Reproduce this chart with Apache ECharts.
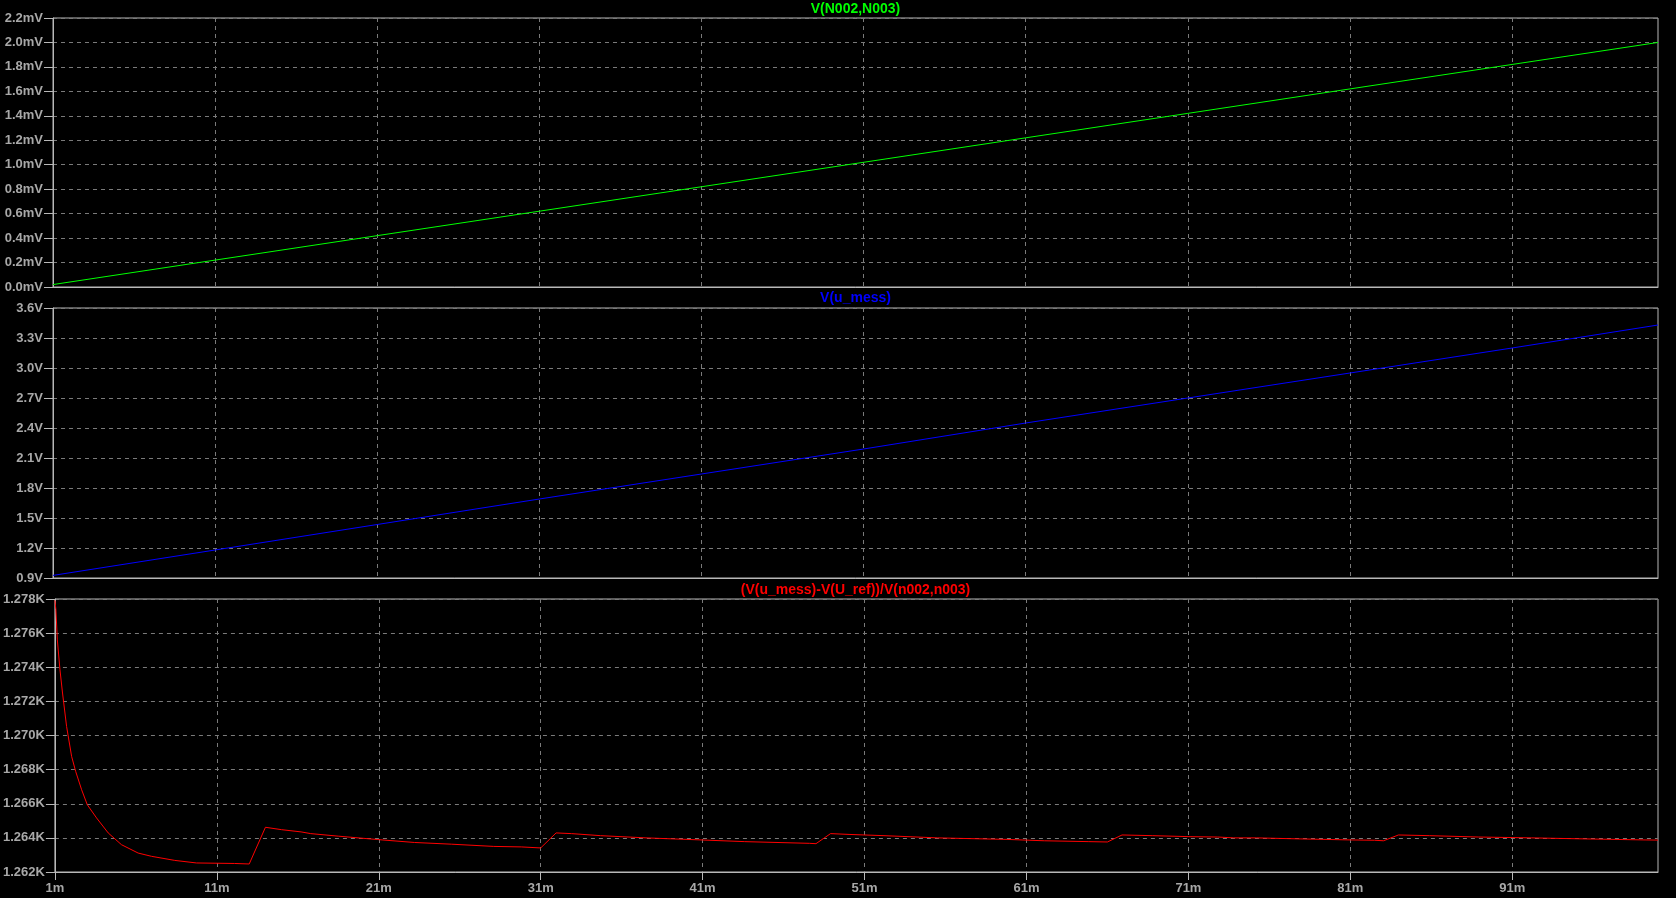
<!DOCTYPE html>
<html>
<head>
<meta charset="utf-8">
<style>
html,body{margin:0;padding:0;background:#000;}
#chart{width:1676px;height:898px;}
</style>
<script src="https://cdn.jsdelivr.net/npm/echarts@6/dist/echarts.min.js"></script>
</head>
<body>
<div id="chart"></div>
<script>
// ---- data ----
const titles = ['V(N002,N003)', 'V(u_mess)', '(V(u_mess)-V(U_ref))/V(n002,n003)'];
const xTicks = [1, 11, 21, 31, 41, 51, 61, 71, 81, 91];           // ms
const xTickLabels = ['1m','11m','21m','31m','41m','51m','61m','71m','81m','91m'];

const greenT = [1, 11, 21, 31, 41, 51, 61, 71, 81, 91, 100];        // ms
const greenV = [0.02, 0.22, 0.42, 0.62, 0.82, 1.02, 1.22, 1.42, 1.62, 1.82, 2.0]; // mV

const blueT = [1, 11, 21, 31, 41, 51, 61, 71, 81, 91, 100];         // ms
const blueV = [0.926, 1.18, 1.435, 1.69, 1.94, 2.19, 2.45, 2.70, 2.95, 3.20, 3.43]; // V

const redT = [1, 1.06, 1.15, 1.31, 1.47, 1.72, 2.03, 2.28, 2.65, 3.0, 3.57, 4.29, 5.11, 6.14, 6.96, 8.4, 9.74, 12.1, 13.0,
  14.0, 15.0, 16.2, 16.8, 18.5, 20.95, 23.2, 25.5, 28.1, 29.8, 31.0,
  31.95, 32.9, 34.7, 37.5, 40.9, 43.6, 47.6, 48.0,
  48.9, 50.1, 52.2, 55.5, 59.8, 62.1, 64.85, 66.0,
  66.9, 68.8, 71.1, 72.8, 73.8, 75.2, 77.9, 81.0, 82.5, 83.05,
  83.97, 85.9, 88.9, 92.2, 95.5, 99.2, 100];
const redV = [1277.92, 1277.37, 1275.6, 1273.86, 1272.49, 1270.53, 1268.78, 1267.9, 1266.82, 1265.94, 1265.17, 1264.29, 1263.6, 1263.11, 1262.92, 1262.68, 1262.53, 1262.5, 1262.47,
  1264.62, 1264.48, 1264.35, 1264.25, 1264.1, 1263.9, 1263.73, 1263.63, 1263.5, 1263.47, 1263.41,
  1264.29, 1264.25, 1264.13, 1264.0, 1263.88, 1263.78, 1263.68, 1263.66,
  1264.25, 1264.2, 1264.13, 1264.0, 1263.91, 1263.83, 1263.78, 1263.76,
  1264.17, 1264.13, 1264.07, 1264.05, 1264.0, 1264.0, 1263.94, 1263.88, 1263.86, 1263.83,
  1264.17, 1264.13, 1264.05, 1264.0, 1263.94, 1263.88, 1263.87];   // ohm

const yTop = {min: 0, max: 2.2, interval: 0.2};
const yMid = {min: 0.9, max: 3.6, interval: 0.3};
const yBot = {min: 1262, max: 1278, interval: 2};

// ---- chart ----
const zip = (a, b) => a.map((v, i) => [v, b[i]]);
const labelColor = '#a8a8a8';
const gridColor = '#7a7a7a';
const borderColor = '#b8b8b8';
const labelFont = {color: labelColor, fontSize: 13, fontWeight: 'bold', fontFamily: 'Liberation Sans, Arial, sans-serif'};

function xAxis(idx, showLabels) {
  return {
    type: 'value', gridIndex: idx, min: 1, max: 100,
    axisLine: {show: true, lineStyle: {color: borderColor, width: 1}},
    axisTick: {show: showLabels, length: 8, customValues: xTicks, lineStyle: {color: borderColor}},
    axisLabel: Object.assign({show: showLabels, margin: 10, customValues: xTicks,
      formatter: v => xTickLabels[xTicks.indexOf(v)] || ''}, labelFont),
    splitLine: {show: true, lineStyle: {color: gridColor, type: [4, 4], width: 1}}
  };
}
function yAxis(idx, cfg, fmt) {
  return {
    type: 'value', gridIndex: idx, min: cfg.min, max: cfg.max, interval: cfg.interval,
    axisLine: {show: true, lineStyle: {color: borderColor, width: 1}},
    axisTick: {show: true, length: 9, lineStyle: {color: borderColor}},
    axisLabel: Object.assign({margin: 10, formatter: fmt}, labelFont),
    splitLine: {show: true, lineStyle: {color: gridColor, type: [4, 4], width: 1}}
  };
}

const chart = echarts.init(document.getElementById('chart'), null, {renderer: 'canvas'});
const cx = 855.5;
chart.setOption({
  backgroundColor: '#000',
  animation: false,
  grid: [
    {left: 53, right: 18, top: 18, height: 269, show: true, borderColor: borderColor, borderWidth: 1, backgroundColor: 'transparent'},
    {left: 53, right: 18, top: 308, height: 270, show: true, borderColor: borderColor, borderWidth: 1},
    {left: 53, right: 18, top: 599, height: 273, show: true, borderColor: borderColor, borderWidth: 1}
  ],
  xAxis: [xAxis(0, false), xAxis(1, false), xAxis(2, true)],
  yAxis: [
    yAxis(0, yTop, v => v.toFixed(1) + 'mV'),
    yAxis(1, yMid, v => v.toFixed(1) + 'V'),
    yAxis(2, yBot, v => (v / 1000).toFixed(3) + 'K')
  ],
  graphic: [
    {type: 'text', x: cx, y: 9, style: {text: titles[0], fill: '#00ff00', font: 'bold 14px Liberation Sans, Arial, sans-serif', textAlign: 'center', textVerticalAlign: 'middle'}},
    {type: 'text', x: cx, y: 298, style: {text: titles[1], fill: '#0000ff', font: 'bold 14px Liberation Sans, Arial, sans-serif', textAlign: 'center', textVerticalAlign: 'middle'}},
    {type: 'text', x: cx, y: 590, style: {text: titles[2], fill: '#ff0000', font: 'bold 14px Liberation Sans, Arial, sans-serif', textAlign: 'center', textVerticalAlign: 'middle'}}
  ],
  series: [
    {type: 'line', xAxisIndex: 0, yAxisIndex: 0, data: zip(greenT, greenV), showSymbol: false, symbol: 'none', lineStyle: {color: '#00ff00', width: 1}, clip: true},
    {type: 'line', xAxisIndex: 1, yAxisIndex: 1, data: zip(blueT, blueV), showSymbol: false, symbol: 'none', lineStyle: {color: '#0000ff', width: 1}, clip: true},
    {type: 'line', xAxisIndex: 2, yAxisIndex: 2, data: zip(redT, redV), showSymbol: false, symbol: 'none', lineStyle: {color: '#ff0000', width: 1}, clip: true}
  ]
});
</script>
</body>
</html>
